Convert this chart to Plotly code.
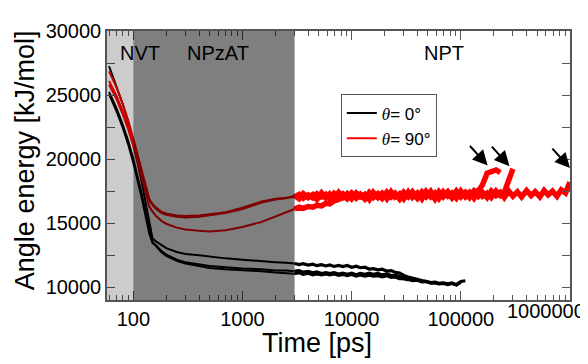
import math
import plotly.graph_objects as go

# ---------------- data ----------------
# equilibration (NVT + NPzAT) time grid [ps]
t_eq = [60, 70, 80, 90, 100, 110, 120, 130, 140, 150, 160, 180, 200, 250, 300,
        400, 500, 700, 1000, 1500, 2000, 2500]
# production (NPT) time grid [ps]
t_npt = [3000, 3300, 3600, 4000, 4400, 4800, 5300, 5800, 6300, 6900, 7600, 8300,
         9100, 10000, 11000, 12000, 13200, 14500, 15800, 17400, 19000, 21000,
         23000, 25000, 27500, 30000, 33000, 36000, 40000, 44000, 48000, 53000,
         58000, 63000, 69000, 76000, 83000, 91000, 100000, 110000, 120000,
         132000, 145000, 158000, 174000, 190000, 210000, 230000, 250000,
         275000, 300000, 330000, 360000, 400000, 440000, 480000, 530000,
         580000, 630000, 690000, 760000, 830000, 910000, 1000000]

# theta = 0 deg runs (angle energy, kJ/mol)
black1_eq = [27250, 25700, 24300, 22900, 21300, 19700, 18100, 16500, 15000, 13800,
             13600, 13300, 13050, 12750, 12600, 12500, 12400, 12250, 12150, 12000,
             11950, 11900]
black1_npt = [11850, 11760, 11830, 11720, 11800, 11680, 11760, 11660, 11740, 11620,
              11700, 11610, 11690, 11560, 11640, 11520, 11560, 11420, 11450, 11360,
              11400, 11260, 11300, 11160, 11100, 10920, 10800, 10700, 10600, 10520,
              10450, 10360, 10400, 10300, 10340, 10260, 10340, 10200, 10450, 10500]
black2_eq = [25250, 24000, 22700, 21400, 20000, 18600, 17200, 15800, 14500, 13500,
             13300, 12850, 12550, 12150, 11950, 11750, 11650, 11550, 11450, 11400,
             11300, 11300]
black2_npt = [11250, 11290, 11170, 11240, 11120, 11190, 11070, 11140, 11060, 11140,
              11020, 11090, 11010, 11090, 10970, 11080, 11000, 11090, 11010, 11080,
              10960, 11040, 10910, 10950, 10810, 10660, 10600, 10520, 10540, 10420,
              10440, 10320, 10340, 10260, 10290, 10210, 10290, 10170, 10400]
black3_eq = [25050, 23750, 22450, 21100, 19700, 18300, 16900, 15500, 14200, 13450,
             13250, 12750, 12450, 12050, 11850, 11650, 11500, 11400, 11350, 11250,
             11150, 11100]
black3_npt = [11050, 11130, 11010, 11090, 10970, 11040, 10960, 11040, 10960, 11040,
              10920, 10990, 10910, 10990, 10870, 10950, 10860, 10940, 10860, 10900,
              10810, 10890, 10760, 10800, 10660, 10690, 10560]

# theta = 90 deg runs
red1_eq = [26850, 25600, 24300, 23000, 21600, 20300, 19000, 17800, 16900, 16500,
           16250, 15900, 15750, 15600, 15550, 15600, 15700, 15850, 16200, 16700,
           16900, 17000]
red1_npt = [17050, 17250, 16950, 17200, 16980, 17300, 17050, 17250, 16900, 17330,
            17050, 17280, 16930, 17350, 17000, 17220, 16900, 17380, 17030, 17300,
            16950, 17420, 17050, 17330, 16900, 17380, 17100, 17450, 16950, 17320,
            17050, 17480, 16920, 17360, 17100, 17450, 17000, 17500, 17050, 17380,
            17150, 17500, 17500, 18000, 18900, 19050, 19150, 18950]
red2_eq = [26100, 24950, 23750, 22500, 21200, 19900, 18700, 17600, 16800, 16400,
           16150, 15800, 15650, 15500, 15450, 15500, 15600, 15800, 16100, 16600,
           16850, 16950]
red2_npt = [17150, 16900, 17300, 17000, 17230, 16850, 17350, 16950, 17280, 16920,
            17400, 17000, 17300, 16900, 17350, 17050, 17250, 16850, 17400, 17000,
            17330, 16900, 17450, 17050, 17300, 16900, 17430, 17000, 17350, 16900,
            17470, 17050, 17350, 16930, 17450, 17100, 17350, 16950, 17500, 17050,
            17400, 16950, 17500, 17100, 17350, 17000, 17500, 17150, 17400, 18300,
            19250]
red3_eq = [25800, 24700, 23500, 22300, 21000, 19700, 18400, 17200, 16300, 15900,
           15600, 15200, 14950, 14650, 14500, 14400, 14350, 14450, 14700, 15100,
           15500, 15800]
red3_npt = [16100, 16250, 16150, 16300, 16250, 16400, 16350, 16550, 16500, 16750,
            16850, 17100, 16900, 17300, 16950, 17250, 16900, 17350, 17000, 17250,
            16950, 17400, 17050, 17300, 16900, 17400, 17050, 17350, 16950, 17450,
            17100, 17350, 16900, 17450, 17050, 17400, 17000, 17450, 17100, 17400,
            17000, 17500, 17100, 17400, 17000, 17500, 17150, 17400, 17000, 17500,
            17100, 17450, 17050, 17550, 17150, 17450, 17050, 17550, 17200, 17500,
            17100, 17600, 17350, 18200]

# simulation phases [ps]
phase_names = ["NVT", "NPzAT", "NPT"]
phase_bounds = [57.4, 100, 3000, 1000000]
phase_label_t = [115, 595, 70000]
phase_label_e = 28300

# arrows marking transitions
arrow_t = [176000, 279000, 1000000]
arrow_e = [19500, 19450, 19300]

# axes
x_ticks = [100, 1000, 10000, 100000]
y_ticks = [10000, 15000, 20000, 25000, 30000]
x_range = [57.4, 1000000]
y_range = [9000, 30000]

FONT = "Liberation Sans, Arial, sans-serif"
AXC = "#555555"

fig = go.Figure()

def add_run(eq, npt, color, name, show, w_npt):
    fig.add_trace(go.Scatter(x=t_eq + [t_npt[0]], y=eq + [npt[0]], mode="lines",
                             name=name, showlegend=show,
                             line=dict(color=color, width=2)))
    fig.add_trace(go.Scatter(x=t_npt[:len(npt)], y=npt, mode="lines",
                             showlegend=False,
                             line=dict(color=color, width=w_npt)))

theta = '<span style="font-family:Liberation Serif"><i>θ</i></span>'
add_run(black1_eq, black1_npt, "black", theta + "= 0°", True, 3.2)
add_run(black2_eq, black2_npt, "black", "", False, 3.2)
add_run(black3_eq, black3_npt, "black", "", False, 3.2)
add_run(red1_eq, red1_npt, "#ff0000", theta + "= 90°", True, 5.5)
add_run(red2_eq, red2_npt, "#ff0000", "", False, 5.5)
add_run(red3_eq, red3_npt, "#ff0000", "", False, 5.5)

# shaded phases (semi-transparent overlay)
shade = ["rgba(0,0,0,0.2)", "rgba(0,0,0,0.5)"]
for i in range(2):
    fig.add_shape(type="rect", xref="x", yref="paper",
                  x0=phase_bounds[i], x1=phase_bounds[i + 1], y0=0, y1=1,
                  fillcolor=shade[i], line=dict(width=0), layer="above")

for name, t in zip(phase_names, phase_label_t):
    fig.add_annotation(x=math.log10(t), y=phase_label_e, text=name, showarrow=False,
                       font=dict(family=FONT, size=20, color="black"))

for t, e in zip(arrow_t, arrow_e):
    fig.add_annotation(x=math.log10(t), y=e, text="", showarrow=True, ax=-19, ay=-21,
                       arrowhead=2, arrowsize=1.5, arrowwidth=2, arrowcolor="black",
                       standoff=0)

# shifted last tick label
fig.add_annotation(xref="paper", yref="paper", x=0.948, y=0, yshift=-11,
                   text="1000000", showarrow=False, xanchor="center", yanchor="middle",
                   font=dict(family=FONT, size=20, color="black"))
# axis titles
fig.add_annotation(xref="paper", yref="paper", x=0.453, y=-0.16, text="Time [ps]",
                   showarrow=False, xanchor="center", yanchor="middle",
                   font=dict(family=FONT, size=27, color="black"))
fig.add_annotation(xref="paper", yref="paper", x=-0.177, y=0.52,
                   text="Angle energy [kJ/mol]", textangle=-90, showarrow=False,
                   xanchor="center", yanchor="middle",
                   font=dict(family=FONT, size=27, color="black"))

fig.update_xaxes(type="log", range=[math.log10(x_range[0]), math.log10(x_range[1])],
                 tickvals=x_ticks, ticktext=[str(v) for v in x_ticks],
                 ticks="inside", ticklen=9, tickwidth=1.3, tickcolor=AXC,
                 showline=True, linecolor=AXC, linewidth=1.5, mirror="ticks",
                 showgrid=False, zeroline=False,
                 minor=dict(ticks="inside", ticklen=5, tickwidth=1.2, tickcolor=AXC,
                            dtick="D1", showgrid=False),
                 tickfont=dict(family=FONT, size=20, color="black"))
fig.update_yaxes(range=y_range, tickvals=y_ticks, ticktext=[str(v) for v in y_ticks],
                 ticks="inside", ticklen=8, tickwidth=1.3, tickcolor=AXC,
                 showline=True, linecolor=AXC, linewidth=1.5, mirror="ticks",
                 showgrid=False, zeroline=False,
                 minor=dict(ticks="inside", ticklen=8, tickwidth=1.3, tickcolor=AXC,
                            dtick=2500, showgrid=False),
                 tickfont=dict(family=FONT, size=20, color="black"))

# page body adds an 8px offset; size/margins compensate so the plot area
# lands at x 107-570, y 20-300 in the 588x364 window
fig.update_layout(
    width=580, height=356,
    margin=dict(l=99, r=18, t=12, b=64),
    paper_bgcolor="white", plot_bgcolor="white",
    font=dict(family=FONT, color="black"),
    legend=dict(x=0.505, y=0.764, xanchor="left", yanchor="top",
                bgcolor="white", bordercolor=AXC, borderwidth=1,
                font=dict(family=FONT, size=17, color="black"),
                tracegroupgap=0, itemwidth=30),
)

fig.write_html("out.html")
